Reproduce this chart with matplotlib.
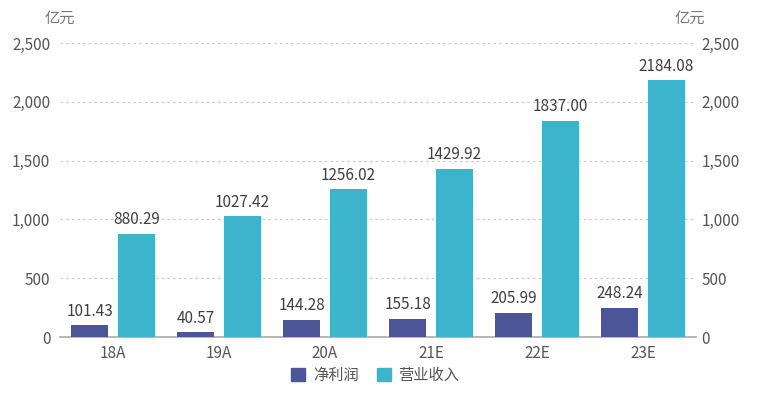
import numpy as np
import matplotlib
matplotlib.use("Agg")
import matplotlib.pyplot as plt
from matplotlib.patches import Patch

plt.rcParams['font.family'] = ['Noto Sans CJK SC', 'DejaVu Sans']

# data
categories = ["18A", "19A", "20A", "21E", "22E", "23E"]
net_profit = [101.43, 40.57, 144.28, 155.18, 205.99, 248.24]
revenue = [880.29, 1027.42, 1256.02, 1429.92, 1837.00, 2184.08]
y_ticks = [0, 500, 1000, 1500, 2000, 2500]
series_names = ["净利润", "营业收入"]

c_net = "#4b5598"
c_rev = "#3cb4cc"
txt = "#404040"
tick_c = "#555555"

fig = plt.figure(figsize=(7.66, 3.95), dpi=100)
ax = fig.add_axes([0.0783, 0.1468, 0.8303, 0.7442])

x = np.arange(len(categories))
w = 0.35
off = 0.22
b1 = ax.bar(x - off, net_profit, w, color=c_net, zorder=3)
b2 = ax.bar(x + off, revenue, w, color=c_rev, zorder=3)

for rects, vals in ((b1, net_profit), (b2, revenue)):
    for r, v in zip(rects, vals):
        ax.annotate(f"{v:.2f}", (r.get_x() + r.get_width() / 2, r.get_height()),
                    xytext=(0, 4), textcoords="offset points",
                    ha="center", va="bottom", fontsize=11, color=txt)

ax.set_xlim(-0.5, len(categories) - 0.5)
ax.set_ylim(0, 2500)
ax.set_yticks(y_ticks)
ax.set_yticklabels([f"{t:,}" for t in y_ticks])
ax.set_xticks(x)
ax.set_xticklabels(categories)
ax.tick_params(axis="both", length=0, labelsize=11, colors=tick_c)
ax.tick_params(axis="x", pad=6)
ax.tick_params(axis="y", pad=7)

for s in ["top", "right", "left"]:
    ax.spines[s].set_visible(False)
ax.spines["bottom"].set_color("#aaaaaa")
ax.spines["bottom"].set_linewidth(1.2)

for t in y_ticks[1:]:
    ax.axhline(t, color="#cccccc", lw=0.9, ls=(0, (2, 2.5)), zorder=1)

ax2 = ax.twinx()
ax2.set_ylim(0, 2500)
ax2.set_yticks(y_ticks)
ax2.set_yticklabels([f"{t:,}" for t in y_ticks])
ax2.tick_params(axis="y", length=0, labelsize=11, colors=tick_c, pad=4)
for s in ax2.spines.values():
    s.set_visible(False)

fig.text(0.078, 0.953, "亿元", fontsize=11, color="#777777", ha="center", va="center")
fig.text(0.900, 0.953, "亿元", fontsize=11, color="#777777", ha="center", va="center")

handles = [Patch(color=c_net), Patch(color=c_rev)]
fig.legend(handles, series_names, loc="center", bbox_to_anchor=(0.49, 0.05),
           ncol=2, frameon=False, fontsize=11, labelcolor=tick_c,
           handlelength=0.9, handleheight=0.9, handletextpad=0.5, columnspacing=1.2)

fig.savefig("out.png", dpi=100)
